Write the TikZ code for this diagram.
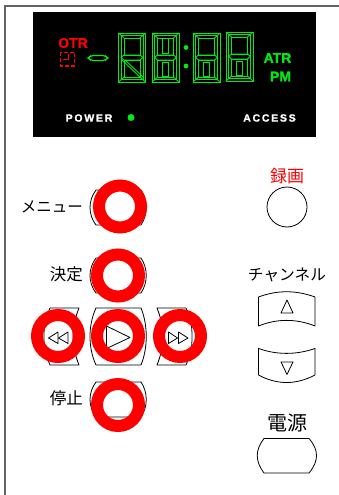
\documentclass[tikz,border=0pt]{standalone}
\usepackage{fontspec}
\setmainfont{Liberation Sans}[BoldFeatures={FakeBold=1.2}]
\newfontfamily\jpfont{Noto Sans CJK JP}
\usetikzlibrary{positioning}
\definecolor{ledgreen}{RGB}{0,235,20}
\definecolor{framegray}{RGB}{100,100,100}
\tikzset{
  ring/.style={circle,draw=red,line width=12pt,minimum size=42pt,inner sep=0pt},
  key/.style={draw=black,line width=0.8pt,line join=round},
  seg/.style={draw=ledgreen,line width=0.9pt},
  jplabel/.style={inner sep=0pt,text=black,font=\jpfont\fontsize{#1}{#1}\selectfont},
  jplabel/.default=15.5,
  ledtext/.style={inner sep=0pt,font=\bfseries\fontsize{#1}{#1}\selectfont},
  ledtext/.default=10.5
}
% big key with bulged sides
\newcommand{\bulgekey}[2]{
  \draw[key,shift={(#1)}] (-22,-#2) -- (23,-#2)
    .. controls (30,-0.4*#2) and (30,0.4*#2) .. (23,#2) -- (-22,#2)
    .. controls (-30,0.4*#2) and (-30,-0.4*#2) .. cycle;
}
% one seven segment digit, #2 is the width of the inner slot, 0 for none
\newcommand{\segdigit}[2]{
  \begin{scope}[shift={(#1)}]
    \draw[seg] (0,0) rectangle (27,49);
    \draw[seg] (2.5,2.5) rectangle (24.5,46.5);
    \draw[seg] (5.5,5) rectangle (21.5,22);
    \draw[seg] (5.5,27) rectangle (21.5,44);
    \draw[seg] (2.5,24.5) -- (5.5,22) -- (21.5,22) -- (24.5,24.5) -- (21.5,27) -- (5.5,27) -- cycle;
    \foreach \cx/\cy/\dx/\dy in {0/0/5.5/5,27/0/21.5/5,0/49/5.5/44,27/49/21.5/44}
      \draw[seg] (\cx,\cy) -- (\dx,\dy);
    \ifnum#2>0
      \draw[seg] (13.5-0.5*#2,27+2) rectangle (13.5+0.5*#2,43);
    \fi
  \end{scope}
}
\begin{document}
\begin{tikzpicture}[x=1pt,y=-1pt]
  \useasboundingbox (0,0) rectangle (339,495);
  % case outline
  \draw[framegray,line width=2pt] (339,6.5) -- (5,6.5) -- (5,495);
  % display
  \fill[black] (33,12) rectangle (316,137);
  \segdigit{118.5,33}{0}
  \segdigit{152,33}{6}
  \segdigit{193,33}{6}
  \segdigit{226,32}{6}
  \draw[seg] (122,60) -- (142,79);
  \draw[seg] (125,60) -- (143,77);
  \draw[seg] (162,38) rectangle (168,53);
  \draw[seg,line width=1.1pt,rounded corners=2pt] (88,58) -- (91,55.5) -- (105,55.5) -- (108,58) -- (105,60.5) -- (91,60.5) -- cycle;
  \foreach \dy in {47.5,66} \fill[ledgreen] (186,\dy) circle (2.4);
  \fill[ledgreen] (131,117.5) circle (3.5);
  \node[ledtext=14,text=red] (otr) at (73,43) {OTR};
  \draw[red,line width=1.1pt,dash pattern=on 4pt off 2pt] (60.5,52.5) rectangle (74.5,66);
  \draw[red,line width=0.8pt] (63,59.5) -- (68,59.5) -- (68,54.5);
  \node[ledtext=14,text=ledgreen] (atr) at (277.5,58) {ATR};
  \node[ledtext=14,text=ledgreen] (pm) at (280.5,76.5) {PM};
  \node[ledtext,text=white] (power) at (89,118) {P\,O\,W\,E\,R};
  \node[ledtext,text=white] (access) at (269.5,118) {A\,C\,C\,E\,S\,S};
  % left keys
  \coordinate (menukey) at (118,207.5);
  \coordinate (setkey) at (118,275.5);
  \coordinate (playkey) at (118,336.5);
  \coordinate (stopkey) at (118,399.5);
  \bulgekey{menukey}{17.5}
  \bulgekey{setkey}{17.5}
  \bulgekey{playkey}{28.5}
  \bulgekey{stopkey}{17.5}
  \draw[key] (79,308) -- (50,308) .. controls (46,318) and (44,322) .. (44,336.5)
    .. controls (44,351) and (46,355) .. (50,365) -- (79,365)
    .. controls (71,345) and (71,328) .. cycle;
  \draw[key] (157,308) -- (186,308) .. controls (190,318) and (192,322) .. (192,336.5)
    .. controls (192,351) and (190,355) .. (186,365) -- (157,365)
    .. controls (165,345) and (165,328) .. cycle;
  \draw[key] (58,332) -- (48.5,338) -- (58,343.5) -- cycle;
  \draw[key] (68,332) -- (58.5,338) -- (68,343.5) -- cycle;
  \draw[key] (168.5,332) -- (177.5,338) -- (168.5,343.5) -- cycle;
  \draw[key] (178.5,332) -- (188,338) -- (178.5,343.5) -- cycle;
  \draw[key] (106.5,326) -- (130,337.5) -- (106.5,348.5) -- cycle;
  \node[ring] (menuring) at (120,206.5) {};
  \node[ring] (setring) at (118,275.5) {};
  \node[ring] (rewring) at (58,336) {};
  \node[ring] (playring) at (118,336) {};
  \node[ring] (ffring) at (180,336) {};
  \node[ring] (stopring) at (118,405) {};
  \node[jplabel=15.5,anchor=east] (menulabel) at (83,206.5) {メニュー};
  \node[jplabel=16.5,anchor=east] (setlabel) at (83,274.5) {決定};
  \node[jplabel=16.5,anchor=east] (stoplabel) at (83,398) {停止};
  % right keys
  \node[circle,key,minimum size=40pt,inner sep=0pt] (reckey) at (287,207) {};
  \node[jplabel=17,text=red,above=3pt of reckey] (reclabel) {録画};
  \node[jplabel=15.7] (chlabel) at (287,275) {チャンネル};
  \draw[key] (258.5,297) .. controls (277,290) and (296,290) .. (315,297) -- (315,326)
    .. controls (296,318.5) and (277,318.5) .. (258.5,326) -- cycle;
  \draw[key] (287,300) -- (293,313) -- (281,313) -- cycle;
  \draw[key] (258.5,348.5) .. controls (277,355) and (296,355) .. (315,348.5) -- (315,375)
    .. controls (296,385) and (277,385) .. (258.5,375) -- cycle;
  \draw[key] (281,362) -- (293,362) -- (287,374.5) -- cycle;
  \draw[key] (264,438.5) -- (309,438.5) .. controls (319,450) and (319,461) .. (309,473)
    -- (264,473) .. controls (255,461) and (255,450) .. cycle;
  \node[jplabel=20] (powerlabel) at (287,423) {電源};
\end{tikzpicture}
\end{document}
